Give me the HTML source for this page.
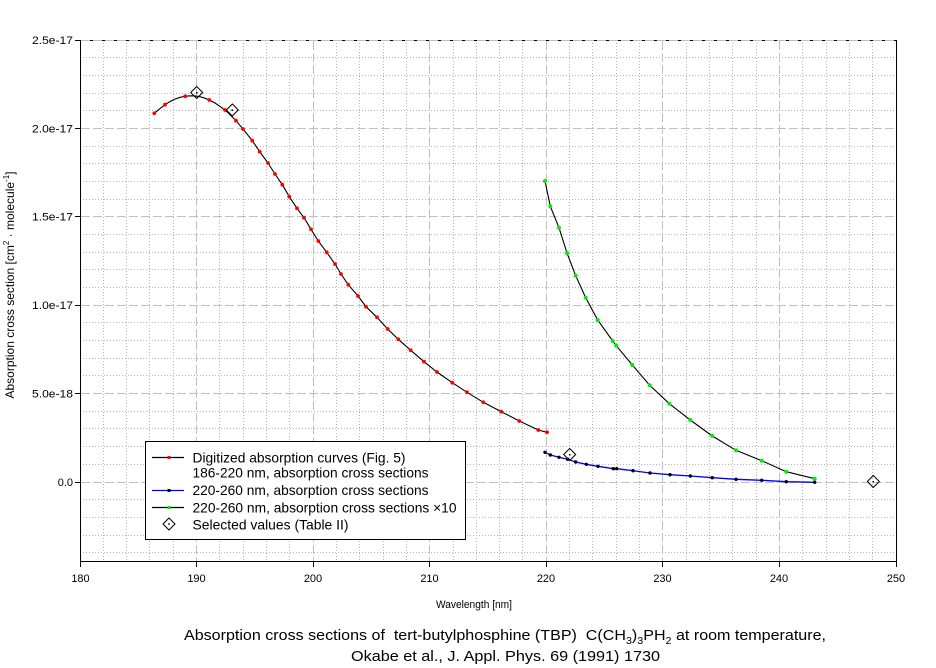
<!DOCTYPE html>
<html><head><meta charset="utf-8"><style>
html,body{margin:0;padding:0;background:#fff;}
svg{display:block;font-family:"Liberation Sans",Arial,sans-serif;}
</style></head><body>
<svg width="936" height="668" viewBox="0 0 936 668" xmlns="http://www.w3.org/2000/svg">
<rect width="936" height="668" fill="#fff"/>
<!-- minor grid -->
<g stroke="#b4b4b4" stroke-width="1" stroke-dasharray="1 2" fill="none">
<path d="M103.5 40V561M126.5 40V561M149.5 40V561M173.5 40V561M219.5 40V561M243.5 40V561M266.5 40V561M289.5 40V561M336.5 40V561M359.5 40V561M383.5 40V561M406.5 40V561M453.5 40V561M476.5 40V561M499.5 40V561M522.5 40V561M569.5 40V561M592.5 40V561M616.5 40V561M639.5 40V561M686.5 40V561M709.5 40V561M732.5 40V561M756.5 40V561M802.5 40V561M826.5 40V561M849.5 40V561M872.5 40V561"/>
<path d="M80 57.5H896M80 75.5H896M80 93.5H896M80 110.5H896M80 146.5H896M80 163.5H896M80 181.5H896M80 199.5H896M80 234.5H896M80 252.5H896M80 269.5H896M80 287.5H896M80 322.5H896M80 340.5H896M80 358.5H896M80 375.5H896M80 411.5H896M80 428.5H896M80 446.5H896M80 464.5H896M80 499.5H896M80 517.5H896M80 535.5H896M80 552.5H896"/>
</g>
<!-- frame -->
<g stroke="#000" stroke-width="1" fill="none">
<path d="M80.5 40V561.5H896.5V40M80 40.5H896.5"/>
</g>
<!-- major grid -->
<g stroke="#c0c0c0" stroke-width="1" stroke-dasharray="9 3" fill="none">
<path d="M196.5 41V561M313.5 41V561M429.5 41V561M546.5 41V561M662.5 41V561M779.5 41V561"/>
<path d="M81 40.5H896M81 128.5H896M81 216.5H896M81 305.5H896M81 393.5H896M81 482.5H896"/>
</g>
<!-- ticks -->
<g stroke="#000" stroke-width="1">
<path d="M75 40.5H80M75 128.5H80M75 216.5H80M75 305.5H80M75 393.5H80M75 482.5H80"/>
<path d="M80.5 561V567M196.5 561V567M313.5 561V567M429.5 561V567M546.5 561V567M662.5 561V567M779.5 561V567M896.5 561V567"/>
</g>
<!-- y tick labels -->
<g font-size="11" fill="#000" text-anchor="end">
<text x="73" y="44" textLength="41" lengthAdjust="spacingAndGlyphs">2.5e-17</text>
<text x="73" y="132.5" textLength="41" lengthAdjust="spacingAndGlyphs">2.0e-17</text>
<text x="73" y="220.5" textLength="41" lengthAdjust="spacingAndGlyphs">1.5e-17</text>
<text x="73" y="309" textLength="41" lengthAdjust="spacingAndGlyphs">1.0e-17</text>
<text x="73" y="397.5" textLength="41" lengthAdjust="spacingAndGlyphs">5.0e-18</text>
<text x="73" y="486">0.0</text>
</g>
<!-- x tick labels -->
<g font-size="11" fill="#000" text-anchor="middle">
<text x="80.5" y="582">180</text>
<text x="196.5" y="582">190</text>
<text x="313" y="582">200</text>
<text x="429.5" y="582">210</text>
<text x="546" y="582">220</text>
<text x="662.5" y="582">230</text>
<text x="779" y="582">240</text>
<text x="896" y="582">250</text>
</g>
<!-- axis titles -->
<text x="474" y="608" font-size="11" text-anchor="middle" textLength="76" lengthAdjust="spacingAndGlyphs">Wavelength [nm]</text>
<text transform="translate(14,285) rotate(-90)" font-size="12" text-anchor="middle" style="white-space:pre">Absorption cross section [cm<tspan font-size="8" dy="-5">2</tspan><tspan dy="5"> · molecule</tspan><tspan font-size="8" dy="-5">-1</tspan><tspan dy="5">]</tspan></text>
<!-- title -->
<text x="505" y="640" font-size="15" text-anchor="middle" textLength="642" lengthAdjust="spacingAndGlyphs" style="white-space:pre">Absorption cross sections of  tert-butylphosphine (TBP)  C(CH<tspan font-size="10" dy="4">3</tspan><tspan dy="-4">)</tspan><tspan font-size="10" dy="4">3</tspan><tspan dy="-4">PH</tspan><tspan font-size="10" dy="4">2</tspan><tspan dy="-4"> at room temperature,</tspan></text>
<text x="505.5" y="661" font-size="15" text-anchor="middle" textLength="309" lengthAdjust="spacingAndGlyphs">Okabe et al., J. Appl. Phys. 69 (1991) 1730</text>

<!-- red series curve -->
<polyline fill="none" stroke="#000" stroke-width="1.1" points="154.3,113.3 160,108.6 165,104.7 170,101.5 175,99.1 180,97.3 185.3,96.3 190,95.8 195,95.9 200,96.7 205,98.2 209.3,100 215,103 220,106.4 225,110 230,114.6 236,120.7 243,129 252.3,140.7 259.7,151.7 268,163 275,174 282.3,184.7 289.3,196.7 297,208.3 304,217.7 311,229.3 318.3,241 326.7,252.3 335,264 341,274 348.3,284.7 358,296 366,306.7 377,317.3 387.7,329 398.3,339.3 410.7,350.3 424,361.7 437,372 452.3,382.7 467,392.3 483.3,402.3 501.3,411.7 519.3,421 538.3,430 547,432.3"/>
<g fill="#ff0000">
<circle cx="154.3" cy="113.3" r="1.9"/><circle cx="165" cy="104.7" r="1.9"/><circle cx="185.3" cy="96.3" r="1.9"/><circle cx="209.3" cy="100" r="1.9"/><circle cx="225" cy="110" r="1.9"/><circle cx="236" cy="120.7" r="1.9"/><circle cx="243" cy="129" r="1.9"/><circle cx="252.3" cy="140.7" r="1.9"/><circle cx="259.7" cy="151.7" r="1.9"/><circle cx="268" cy="163" r="1.9"/><circle cx="275" cy="174" r="1.9"/><circle cx="282.3" cy="184.7" r="1.9"/><circle cx="289.3" cy="196.7" r="1.9"/><circle cx="297" cy="208.3" r="1.9"/><circle cx="304" cy="217.7" r="1.9"/><circle cx="311" cy="229.3" r="1.9"/><circle cx="318.3" cy="241" r="1.9"/><circle cx="326.7" cy="252.3" r="1.9"/><circle cx="335" cy="264" r="1.9"/><circle cx="341" cy="274" r="1.9"/><circle cx="348.3" cy="284.7" r="1.9"/><circle cx="358" cy="296" r="1.9"/><circle cx="366" cy="306.7" r="1.9"/><circle cx="377" cy="317.3" r="1.9"/><circle cx="387.7" cy="329" r="1.9"/><circle cx="398.3" cy="339.3" r="1.9"/><circle cx="410.7" cy="350.3" r="1.9"/><circle cx="424" cy="361.7" r="1.9"/><circle cx="437" cy="372" r="1.9"/><circle cx="452.3" cy="382.7" r="1.9"/><circle cx="467" cy="392.3" r="1.9"/><circle cx="483.3" cy="402.3" r="1.9"/><circle cx="501.3" cy="411.7" r="1.9"/><circle cx="519.3" cy="421" r="1.9"/><circle cx="538.3" cy="430" r="1.9"/><circle cx="547" cy="432.3" r="1.9"/>
</g>
<!-- green series (x10) -->
<polyline fill="none" stroke="#000" stroke-width="1.1" points="545,181 550.3,206.3 559,227.7 567,253 575.7,275.7 585.7,297.7 597.7,320 612.7,341 616.3,345.7 632.3,365 649.7,385.3 669.3,403.7 690.3,420 712.3,436 736,450.3 761.7,460.7 786.3,471.7 814.7,478.7"/>
<g fill="#00ee00">
<circle cx="545" cy="181" r="2"/><circle cx="550.3" cy="206.3" r="2"/><circle cx="559" cy="227.7" r="2"/><circle cx="567" cy="253" r="2"/><circle cx="575.7" cy="275.7" r="2"/><circle cx="585.7" cy="297.7" r="2"/><circle cx="597.7" cy="320" r="2"/><circle cx="612.7" cy="341" r="2"/><circle cx="616.3" cy="345.7" r="2"/><circle cx="632.3" cy="365" r="2"/><circle cx="649.7" cy="385.3" r="2"/><circle cx="669.3" cy="403.7" r="2"/><circle cx="690.3" cy="420" r="2"/><circle cx="712.3" cy="436" r="2"/><circle cx="736" cy="450.3" r="2"/><circle cx="761.7" cy="460.7" r="2"/><circle cx="786.3" cy="471.7" r="2"/><circle cx="814.7" cy="478.7" r="2"/>
</g>
<!-- blue series -->
<polyline fill="none" stroke="#0000ff" stroke-width="1.3" points="545,452.3 550.3,455 559,457.3 567.7,459.3 575.7,462 586.3,464.3 598,466.3 613.3,468.7 616.7,468.7 633,470.7 650,473 670,474.7 690.3,476 712.3,477.7 736,479.3 761.7,480.3 786.3,481.7 814.7,482.3"/>
<g fill="#000">
<circle cx="545" cy="452.3" r="1.7"/><circle cx="550.3" cy="455" r="1.7"/><circle cx="559" cy="457.3" r="1.7"/><circle cx="567.7" cy="459.3" r="1.7"/><circle cx="575.7" cy="462" r="1.7"/><circle cx="586.3" cy="464.3" r="1.7"/><circle cx="598" cy="466.3" r="1.7"/><circle cx="613.3" cy="468.7" r="1.7"/><circle cx="616.7" cy="468.7" r="1.7"/><circle cx="633" cy="470.7" r="1.7"/><circle cx="650" cy="473" r="1.7"/><circle cx="670" cy="474.7" r="1.7"/><circle cx="690.3" cy="476" r="1.7"/><circle cx="712.3" cy="477.7" r="1.7"/><circle cx="736" cy="479.3" r="1.7"/><circle cx="761.7" cy="480.3" r="1.7"/><circle cx="786.3" cy="481.7" r="1.7"/><circle cx="814.7" cy="482.3" r="1.7"/>
</g>
<!-- selected values diamonds -->
<g stroke="#000" stroke-width="1" fill="none">
<path d="M196.7 86.5L202.7 92.5L196.7 98.5L190.7 92.5Z"/>
<path d="M232.3 104L238.3 110L232.3 116L226.3 110Z"/>
<path d="M569.7 448.5L575.7 454.5L569.7 460.5L563.7 454.5Z"/>
<path d="M873.3 475.5L879.3 481.5L873.3 487.5L867.3 481.5Z"/>
</g>
<g fill="#000">
<rect x="196" y="92" width="1.5" height="1.5"/><rect x="231.5" y="109.5" width="1.5" height="1.5"/><rect x="569" y="454" width="1.5" height="1.5"/><rect x="872.5" y="481" width="1.5" height="1.5"/>
</g>

<!-- legend -->
<rect x="145.5" y="441.5" width="320" height="98" fill="#fff" stroke="#000" stroke-width="1"/>
<g stroke-width="1.2">
<line x1="152" y1="457.5" x2="184" y2="457.5" stroke="#000"/>
<line x1="152" y1="490.5" x2="184" y2="490.5" stroke="#0000ff"/>
<line x1="152" y1="507.5" x2="184" y2="507.5" stroke="#000"/>
</g>
<rect x="167.5" y="456" width="3" height="3" fill="#ff0000"/>
<rect x="167.5" y="489" width="3" height="3" fill="#000"/>
<rect x="167.5" y="506" width="3" height="3" fill="#00ee00"/>
<path d="M169 518L175 524L169 530L163 524Z" stroke="#000" stroke-width="1" fill="none"/>
<rect x="168.3" y="523.3" width="1.5" height="1.5" fill="#000"/>
<g font-size="14" fill="#000">
<text x="192.5" y="462.3" textLength="213" lengthAdjust="spacingAndGlyphs">Digitized absorption curves (Fig. 5)</text>
<text x="192.5" y="477.7" textLength="236" lengthAdjust="spacingAndGlyphs">186-220 nm, absorption cross sections</text>
<text x="192.5" y="495" textLength="236" lengthAdjust="spacingAndGlyphs">220-260 nm, absorption cross sections</text>
<text x="192.5" y="512.3" textLength="264" lengthAdjust="spacingAndGlyphs">220-260 nm, absorption cross sections ×10</text>
<text x="192.5" y="529.3" textLength="156" lengthAdjust="spacingAndGlyphs">Selected values (Table II)</text>
</g>
</svg>
</body></html>
